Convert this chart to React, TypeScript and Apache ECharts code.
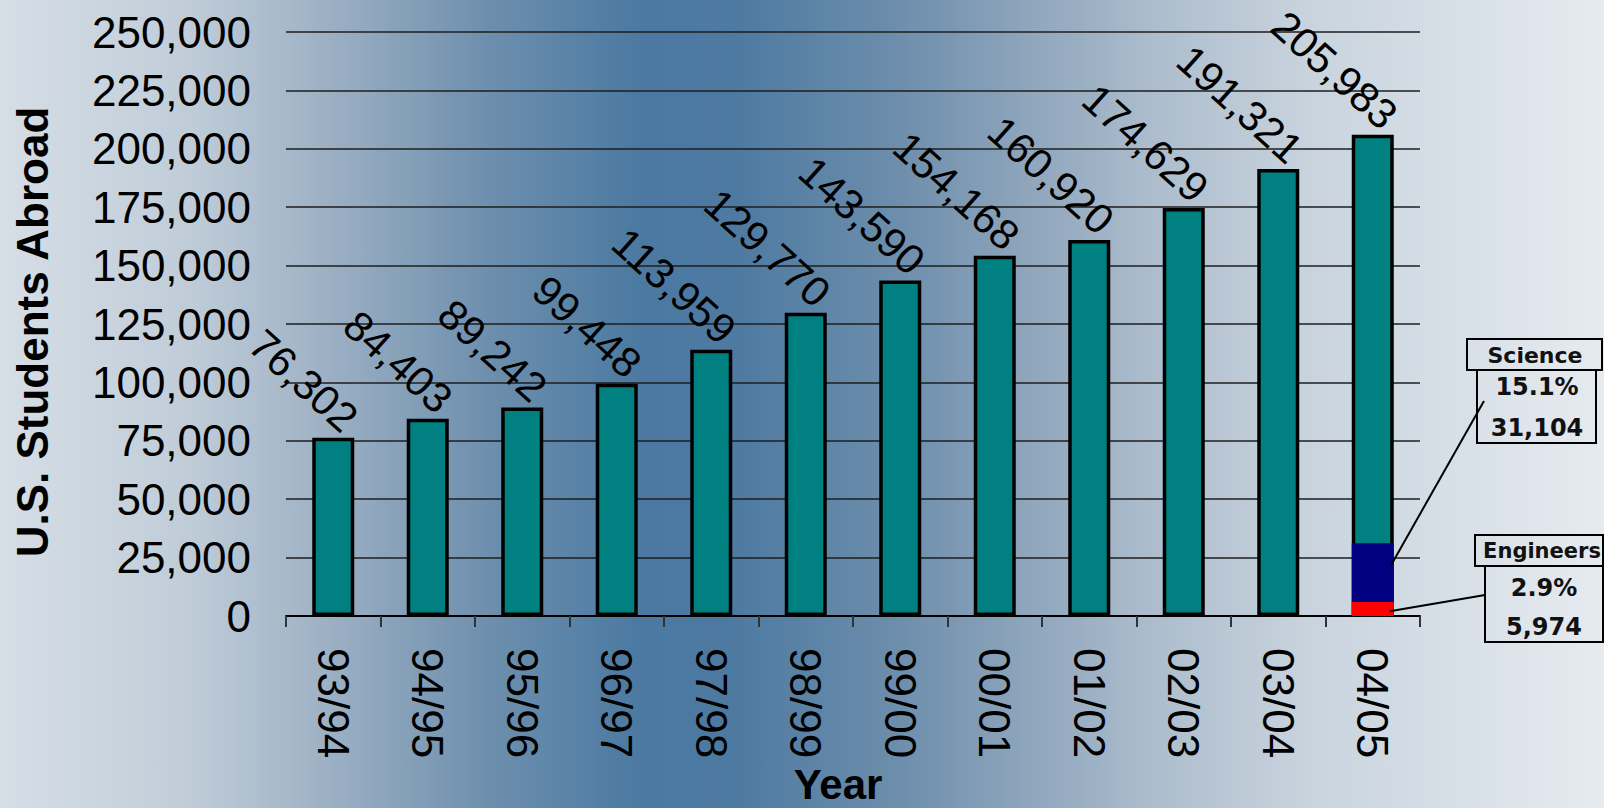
import React, { useEffect, useRef } from "react";
import * as echarts from "echarts";

const categories = ["93/94", "94/95", "95/96", "96/97", "97/98", "98/99", "99/00", "00/01", "01/02", "02/03", "03/04", "04/05"];
const totalStudents = [76302, 84403, 89242, 99448, 113959, 129770, 143590, 154168, 160920, 174629, 191321, 205983];
const scienceCount = 31104;
const engineersCount = 5974;
const yTicks = { min: 0, max: 250000, interval: 25000 };

const fmt = (v: number) => v.toLocaleString("en-US");
const FONT = "'Liberation Sans', Arial, sans-serif";
const BOX_FONT = "'DejaVu Sans', Verdana, sans-serif";

export default function App() {
  const ref = useRef<HTMLDivElement>(null);

  useEffect(() => {
    if (!ref.current) return;
    const chart = echarts.init(ref.current, null, { renderer: "svg" });
    const last = categories.length - 1;
    const scienceData = categories.map((_, i) => (i === last ? scienceCount : null));
    const engData = categories.map((_, i) => (i === last ? engineersCount : null));
    const totalLast = totalStudents[last];
    const sciPct = ((scienceCount / totalLast) * 100).toFixed(1) + "%";
    const engPct = ((engineersCount / totalLast) * 100).toFixed(1) + "%";

    chart.setOption({
      animation: false,
      grid: { left: 286, right: 184, top: 32, bottom: 192 },
      xAxis: {
        type: "category",
        data: categories,
        axisLine: { show: true, lineStyle: { color: "#000", width: 2 } },
        axisTick: { show: true, length: 11, lineStyle: { color: "#333", width: 2 } },
        axisLabel: { rotate: -90, fontSize: 44, margin: 32, color: "#000", fontFamily: FONT, interval: 0 },
      },
      yAxis: {
        type: "value",
        min: yTicks.min,
        max: yTicks.max,
        interval: yTicks.interval,
        axisLine: { show: false },
        axisTick: { show: false },
        axisLabel: { fontSize: 44, margin: 35, color: "#000", fontFamily: FONT, formatter: (v: number) => fmt(v) },
        splitLine: { lineStyle: { color: "#1e1e1e", width: 1.5 } },
      },
      series: [
        {
          name: "Students",
          type: "bar",
          data: totalStudents,
          barWidth: 42,
          barGap: "-100%",
          itemStyle: { color: "#008080", borderColor: "#000", borderWidth: 3.5 },
          label: {
            show: true,
            position: [39, -14],
            rotate: -42,
            align: "right",
            verticalAlign: "middle",
            fontSize: 42,
            fontFamily: FONT,
            color: "#000",
            formatter: (p: any) => fmt(p.value),
          },
          z: 2,
        },
        {
          name: "Science",
          type: "bar",
          data: scienceData,
          barWidth: 42,
          barGap: "-100%",
          itemStyle: { color: "#000080" },
          z: 3,
        },
        {
          name: "Engineers",
          type: "bar",
          data: engData,
          barWidth: 42,
          barGap: "-100%",
          itemStyle: { color: "#ff0000" },
          z: 4,
        },
      ],
    });

    const sciPt = chart.convertToPixel({ xAxisIndex: 0, yAxisIndex: 0 }, [categories[last], (engineersCount + scienceCount) / 2 + 3000]) as number[];
    const engPt = chart.convertToPixel({ xAxisIndex: 0, yAxisIndex: 0 }, [categories[last], engineersCount / 3]) as number[];

    const boxStyle = { fill: "rgba(0,0,0,0)", stroke: "#000", lineWidth: 2 };
    const boxText = (x: number, y: number, text: string, size: number) => ({
      type: "text",
      x,
      y,
      style: { text, fontSize: size, fontWeight: "bold", fontFamily: BOX_FONT, fill: "#111", align: "center", verticalAlign: "middle" },
      z: 20,
    });

    chart.setOption({
      graphic: [
        {
          type: "text",
          x: 32,
          y: 332,
          rotation: Math.PI / 2,
          style: { text: "U.S. Students Abroad", fontSize: 44, fontWeight: "bold", fontFamily: FONT, fill: "#000", align: "center", verticalAlign: "middle" },
        },
        {
          type: "text",
          x: 838,
          y: 784,
          style: { text: "Year", fontSize: 42, fontWeight: "bold", fontFamily: FONT, fill: "#000", align: "center", verticalAlign: "middle" },
        },
        { type: "line", shape: { x1: 1484, y1: 401, x2: sciPt[0] + 18, y2: sciPt[1] }, style: { stroke: "#000", lineWidth: 2 }, z: 20 },
        { type: "line", shape: { x1: 1485, y1: 595, x2: engPt[0] + 17, y2: engPt[1] }, style: { stroke: "#000", lineWidth: 2 }, z: 20 },
        { type: "rect", shape: { x: 1467, y: 339, width: 135, height: 31 }, style: boxStyle, z: 20 },
        { type: "rect", shape: { x: 1477, y: 370, width: 119, height: 73 }, style: boxStyle, z: 20 },
        boxText(1535, 355, "Science", 22),
        boxText(1537, 387, sciPct, 24),
        boxText(1537, 428, fmt(scienceCount), 24),
        { type: "rect", shape: { x: 1475, y: 535, width: 128, height: 31 }, style: boxStyle, z: 20 },
        { type: "rect", shape: { x: 1485, y: 566, width: 118, height: 76 }, style: boxStyle, z: 20 },
        boxText(1542, 551, "Engineers", 21),
        boxText(1544, 588, engPct, 24),
        boxText(1544, 627, fmt(engineersCount), 24),
      ],
    });

    return () => chart.dispose();
  }, []);

  return (
    <div
      style={{
        position: "fixed",
        left: 0,
        top: 0,
        width: "100vw",
        height: "100vh",
        background:
          "linear-gradient(to right, #d6dee6 0%, #bfccd8 12%, #9fb2c5 20%, #6f90ae 30%, #4b79a1 40%, #4e7aa1 46%, #6d8eac 56%, #8ea5bc 64%, #adbdcd 72%, #c9d4de 82%, #e6ebf0 100%)",
      }}
    >
      <div ref={ref} style={{ width: "100%", height: "100%" }} />
    </div>
  );
}
